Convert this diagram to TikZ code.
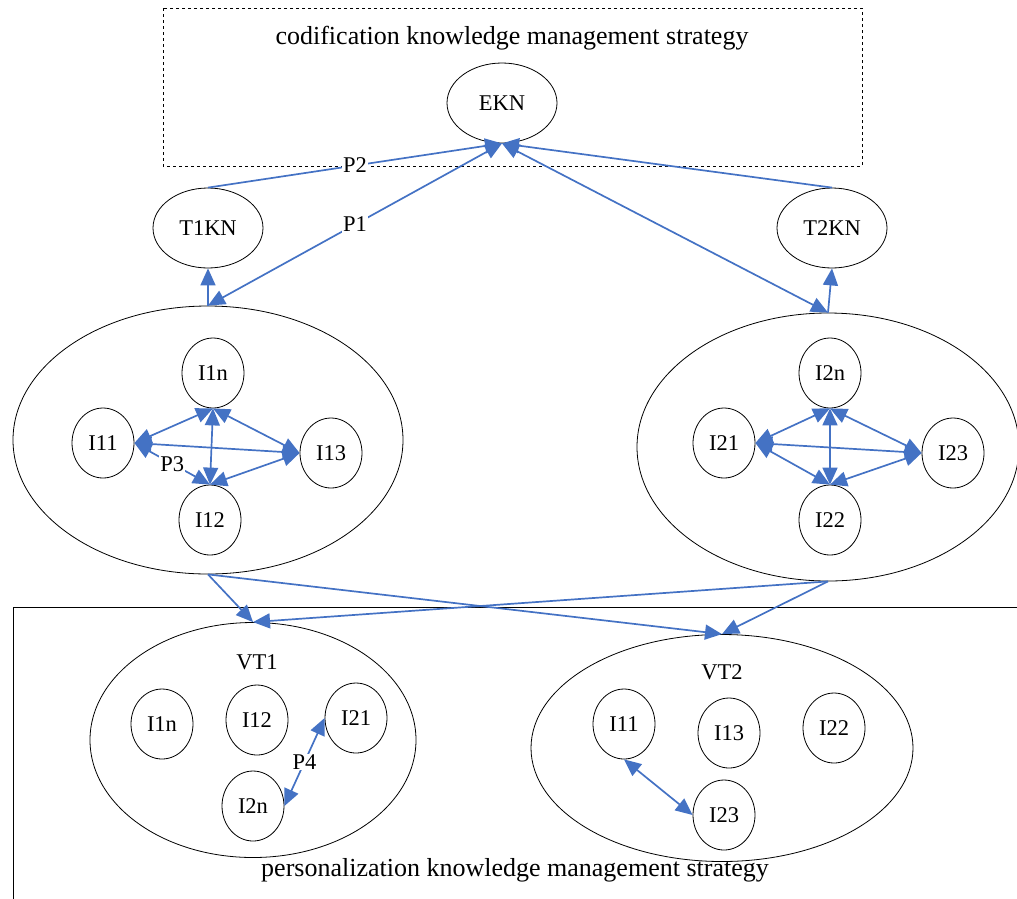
\documentclass[tikz,border=0pt]{standalone}
\usepackage{fontspec}
\setmainfont{Liberation Serif}
\usetikzlibrary{arrows.meta, positioning, shapes.geometric}
\definecolor{linkblue}{HTML}{4472C4}

\begin{document}
\begin{tikzpicture}[x=1pt, y=-1pt,
  kn/.style={ellipse, draw, line width=0.8pt, minimum width=110pt, minimum height=80pt,
    inner sep=0pt, font=\fontsize{22.5}{26}\selectfont},
  item/.style={ellipse, draw, line width=0.8pt, minimum width=62pt, minimum height=70pt,
    inner sep=0pt, font=\fontsize{22.5}{26}\selectfont},
  team/.style={ellipse, draw, line width=0.8pt, inner sep=0pt},
  link/.style={-{Triangle[length=17pt,width=15pt]}, line width=1.7pt, linkblue},
  both/.style={{Triangle[length=17pt,width=15pt]}-{Triangle[length=17pt,width=15pt]},
    line width=1.7pt, linkblue},
  plab/.style={fill=white, inner sep=1pt, text=black, font=\fontsize{22.5}{26}\selectfont},
  strat/.style={font=\fontsize{26}{31}\selectfont}
]
\useasboundingbox (0,0) rectangle (1017,898);

% codification part
\draw[dashed, line width=0.8pt] (163,8) rectangle (862,166);
\node[strat] (codif) at (512,38) {codification knowledge management strategy};
\node[kn] (ekn)  at (502,103) {EKN};
\node[kn] (t1kn) at (208,228) {T1KN};
\node[kn] (t2kn) at (832,228) {T2KN};

% two teams
\node[team, minimum width=390pt, minimum height=268pt] (team1) at (208,440) {};
\node[team, minimum width=382pt, minimum height=268pt] (team2) at (828,447) {};

\node[item] (i1n) at (213,373) {I1n};
\node[item] (i11) at (103,443) {I11};
\node[item] (i13) at (331,453) {I13};
\node[item] (i12) at (210,520) {I12};

\node[item] (i2n) at (830,373) {I2n};
\node[item] (i21) at (724,443) {I21};
\node[item] (i23) at (953,453) {I23};
\node[item] (i22) at (830,520) {I22};

% personalization part
\draw[line width=0.8pt] (13,910) -- (13,607) -- (1030,607);
\node[strat] (perso) at (515,870) {personalization knowledge management strategy};

\node[team, minimum width=326pt, minimum height=235pt] (vt1) at (253,740) {};
\node[team, minimum width=382pt, minimum height=227pt] (vt2) at (722,748) {};
\node[font=\fontsize{22.5}{26}\selectfont] (vt1lab) at (257,662) {VT1};
\node[font=\fontsize{22.5}{26}\selectfont] (vt2lab) at (722,672) {VT2};

\node[item] (v1i1n) at (162,724) {I1n};
\node[item] (v1i12) at (257,720) {I12};
\node[item] (v1i21) at (356,718) {I21};
\node[item] (v1i2n) at (253,806) {I2n};

\node[item] (v2i11) at (624,724) {I11};
\node[item] (v2i13) at (729,733) {I13};
\node[item] (v2i22) at (834,728) {I22};
\node[item] (v2i23) at (724,815) {I23};

% links to EKN
\draw[link] (t1kn.north) -- node[plab] {P2} (ekn.south);
\draw[both] (team1.north) -- node[plab] {P1} (ekn.south);
\draw[link] (team1.north) -- (t1kn.south);
\draw[link] (t2kn.north) -- (ekn.south);
\draw[both] (team2.north) -- (ekn.south);
\draw[link] (team2.north) -- (t2kn.south);

% links inside the teams
\draw[both] (i1n.south) -- (i11.east);
\draw[both] (i1n.south) -- (i13.west);
\draw[both] (i1n.south) -- (i12.north);
\draw[both] (i11.east) -- (i13.west);
\draw[both] (i11.east) -- node[plab] {P3} (i12.north);
\draw[both] (i13.west) -- (i12.north);

\draw[both] (i2n.south) -- (i21.east);
\draw[both] (i2n.south) -- (i23.west);
\draw[both] (i2n.south) -- (i22.north);
\draw[both] (i21.east) -- (i23.west);
\draw[both] (i21.east) -- (i22.north);
\draw[both] (i23.west) -- (i22.north);

% links to the virtual teams
\draw[link] (team1.south) -- (vt1.north);
\draw[link] (team1.south) -- (vt2.north);
\draw[link] (team2.south) -- (vt1.north);
\draw[link] (team2.south) -- (vt2.north);

\draw[both] (v1i21.west) -- node[plab] {P4} (v1i2n.east);
\draw[both] (v2i11.south) -- (v2i23.west);
\end{tikzpicture}
\end{document}
